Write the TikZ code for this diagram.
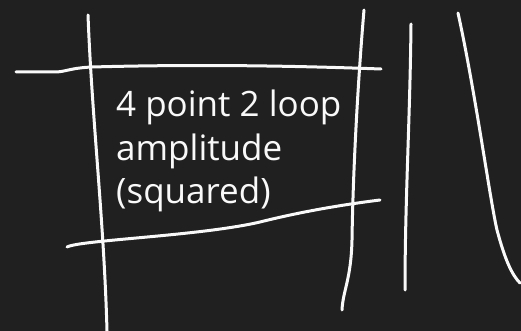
\documentclass[tikz,border=0pt]{standalone}
\usepackage{fontspec}
\setmainfont{Open Sans}
\begin{document}
\begin{tikzpicture}[x=1pt,y=-1pt,
  chalk/.style={draw=white!95!gray,line width=3pt,line cap=round,line join=round},
  label/.style={text=white!95!gray,font=\fontsize{35}{43}\selectfont,align=left,inner sep=0pt,anchor=base west}]
\fill[fill={rgb,255:red,32;green,32;blue,32}] (0,0) rectangle (521,331);
\useasboundingbox (0,0) rectangle (521,331);
% left vertical
\draw[chalk] (88,15) .. controls (92,120) and (104,220) .. (107,331);
% top horizontal
\draw[chalk] (16,72) -- (55,72) .. controls (65,72) and (70,68) .. (92,67) .. controls (200,64) and (300,66) .. (381,69);
% right box vertical
\draw[chalk] (364,10) .. controls (358,80) and (353,170) .. (352,240) .. controls (351,280) and (343,290) .. (342,310);
% bottom diagonal
\draw[chalk] (67,247) .. controls (80,240) and (200,236) .. (260,222) .. controls (300,212) and (340,205) .. (380,200);
% third vertical
\draw[chalk] (411,24) .. controls (410,120) and (405,200) .. (405,290);
% fourth curve
\draw[chalk] (458,13) .. controls (475,90) and (490,200) .. (497,230) .. controls (505,260) and (512,275) .. (520,283);
\node[label] (t) at (116,203) {4 point 2 loop\\amplitude\\(squared)};
\end{tikzpicture}
\end{document}
